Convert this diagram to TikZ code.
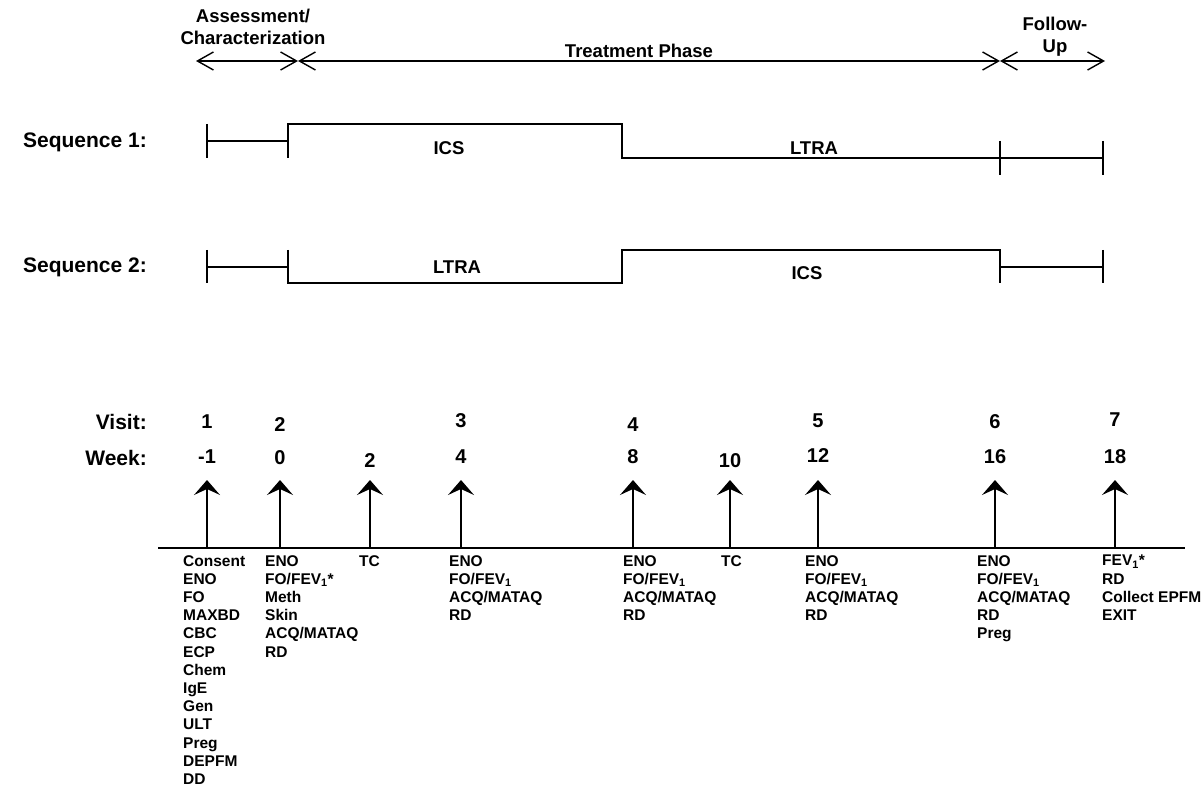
\documentclass[tikz,border=0pt]{standalone}
\usepackage{fontspec}
\setmainfont{Liberation Sans}
\usetikzlibrary{arrows.meta}

\tikzset{
  hdr/.style={font=\fontsize{18.5}{22}\selectfont\bfseries, align=center, inner sep=0},
  rowlbl/.style={font=\fontsize{21}{24}\selectfont\bfseries, anchor=east, inner sep=0},
  num/.style={font=\fontsize{20}{24}\selectfont\bfseries, inner sep=0},
  arm/.style={font=\fontsize{18.5}{22}\selectfont\bfseries, inner sep=0},
  items/.style={font=\fontsize{15.5}{18.2}\selectfont\bfseries, align=left, anchor=north west, inner sep=0},
  seqline/.style={line width=1.3pt},
  phase/.style={line width=1.4pt, {Straight Barb[length=16pt,width=18pt]}-{Straight Barb[length=16pt,width=18pt]}},
  timeline/.style={line width=1.6pt},
  visit/.style={line width=1.3pt, -{Stealth[length=15pt,width=26pt,inset=6pt]}}
}

\begin{document}
\begin{tikzpicture}[x=1pt, y=-1pt]
    \useasboundingbox (0,0) rectangle (1204,786);

    % phases across the top
    \coordinate (h_a) at (196,61);
    \coordinate (h_b) at (298,61);
    \coordinate (h_c) at (1000,61);
    \coordinate (h_d) at (1105,61);
    \draw[phase] (h_a) -- (h_b);
    \draw[phase] (h_b) -- (h_c);
    \draw[phase] (h_c) -- (h_d);
    \node[hdr] (p_a) at (253,27) {Assessment/\\Characterization};
    \node[hdr] (p_t) at (639,51) {Treatment Phase};
    \node[hdr] (p_f) at (1055,37) {Follow-\\Up};

    % sequence 1
    \node[rowlbl] (s_1) at (147,142) {Sequence 1:};
    \draw[seqline] (207,124) -- (207,158);
    \draw[seqline] (207,141) -- (288,141);
    \draw[seqline] (288,158) -- (288,124) -- (622,124) -- (622,158) -- (1103,158);
    \draw[seqline] (1000,141) -- (1000,175);
    \draw[seqline] (1103,141) -- (1103,175);
    \node[arm] (s_1a) at (449,148) {ICS};
    \node[arm] (s_1b) at (814,148) {LTRA};

    % sequence 2
    \node[rowlbl] (s_2) at (147,267) {Sequence 2:};
    \draw[seqline] (207,250) -- (207,283);
    \draw[seqline] (207,267) -- (288,267);
    \draw[seqline] (288,250) -- (288,283) -- (622,283) -- (622,250) -- (1000,250) -- (1000,283);
    \draw[seqline] (1000,267) -- (1103,267);
    \draw[seqline] (1103,250) -- (1103,283);
    \node[arm] (s_2a) at (457,267) {LTRA};
    \node[arm] (s_2b) at (807,273) {ICS};

    % visits and weeks
    \node[rowlbl] (l_v) at (147,422) {Visit:};
    \node[rowlbl] (l_w) at (147,458) {Week:};
    \node[num] (v_1) at (207,422) {1};
    \node[num] (v_2) at (280,425) {2};
    \node[num] (v_3) at (461,421) {3};
    \node[num] (v_4) at (633,425) {4};
    \node[num] (v_5) at (818,421) {5};
    \node[num] (v_6) at (995,422) {6};
    \node[num] (v_7) at (1115,420) {7};
    \node[num] (w_1) at (207,457) {-1};
    \node[num] (w_2) at (280,458) {0};
    \node[num] (w_3) at (370,461) {2};
    \node[num] (w_4) at (461,457) {4};
    \node[num] (w_5) at (633,457) {8};
    \node[num] (w_6) at (730,461) {10};
    \node[num] (w_7) at (818,456) {12};
    \node[num] (w_8) at (995,457) {16};
    \node[num] (w_9) at (1115,457) {18};

    % time line with arrows
    \coordinate (t_a) at (158,548);
    \coordinate (t_b) at (1185,548);
    \draw[timeline] (t_a) -- (t_b);
    \coordinate (b_1) at (207,548);  \coordinate (a_1) at (207,480);
    \coordinate (b_2) at (280,548);  \coordinate (a_2) at (280,480);
    \coordinate (b_3) at (370,548);  \coordinate (a_3) at (370,480);
    \coordinate (b_4) at (461,548);  \coordinate (a_4) at (461,480);
    \coordinate (b_5) at (633,548);  \coordinate (a_5) at (633,480);
    \coordinate (b_6) at (730,548);  \coordinate (a_6) at (730,480);
    \coordinate (b_7) at (818,548);  \coordinate (a_7) at (818,480);
    \coordinate (b_8) at (995,548);  \coordinate (a_8) at (995,480);
    \coordinate (b_9) at (1115,548); \coordinate (a_9) at (1115,480);
    \draw[visit] (b_1) -- (a_1);
    \draw[visit] (b_2) -- (a_2);
    \draw[visit] (b_3) -- (a_3);
    \draw[visit] (b_4) -- (a_4);
    \draw[visit] (b_5) -- (a_5);
    \draw[visit] (b_6) -- (a_6);
    \draw[visit] (b_7) -- (a_7);
    \draw[visit] (b_8) -- (a_8);
    \draw[visit] (b_9) -- (a_9);

    % procedures at each visit
    \node[items] (c_1) at (183,555) {Consent\\ENO\\FO\\MAXBD\\CBC\\ECP\\Chem\\IgE\\Gen\\ULT\\Preg\\DEPFM\\DD};
    \node[items] (c_2) at (265,555) {ENO\\FO/FEV\textsubscript{1}*\\Meth\\Skin\\ACQ/MATAQ\\RD};
    \node[items] (c_3) at (359,555) {TC};
    \node[items] (c_4) at (449,555) {ENO\\FO/FEV\textsubscript{1}\\ACQ/MATAQ\\RD};
    \node[items] (c_5) at (623,555) {ENO\\FO/FEV\textsubscript{1}\\ACQ/MATAQ\\RD};
    \node[items] (c_6) at (721,555) {TC};
    \node[items] (c_7) at (805,555) {ENO\\FO/FEV\textsubscript{1}\\ACQ/MATAQ\\RD};
    \node[items] (c_8) at (977,555) {ENO\\FO/FEV\textsubscript{1}\\ACQ/MATAQ\\RD\\Preg};
    \node[items] (c_9) at (1102,555) {FEV\textsubscript{1}*\\RD\\Collect EPFM\\EXIT};
\end{tikzpicture}
\end{document}
